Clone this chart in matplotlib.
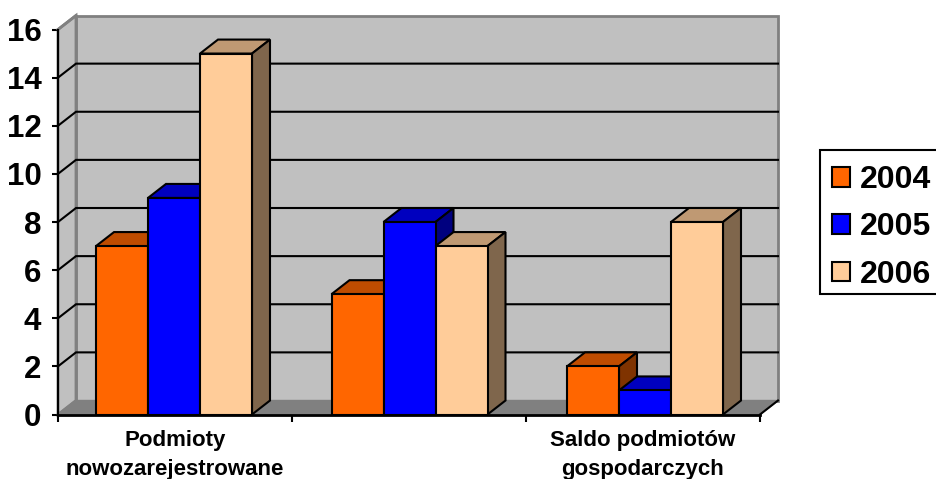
import matplotlib
matplotlib.use('Agg')
import matplotlib.pyplot as plt
from matplotlib.patches import Polygon, Patch, Rectangle

# Dane wykresu
categories = ['Podmioty\nnowozarejestrowane', '', 'Saldo podmiotów\ngospodarczych']
years = ['2004', '2005', '2006']
values_2004 = [7, 5, 2]
values_2005 = [9, 8, 1]
values_2006 = [15, 7, 8]
series = [values_2004, values_2005, values_2006]

# front, top, side
colors = [('#FF6600', '#BF4C00', '#7F3300'),
          ('#0000FF', '#0000BF', '#00007F'),
          ('#FFCC99', '#BF9973', '#7F664C')]

W, H = 936, 479
plt.rcParams['font.family'] = ['Liberation Sans', 'DejaVu Sans']
plt.rcParams['font.weight'] = 'bold'

fig = plt.figure(figsize=(W / 100, H / 100), dpi=100)
# front plane of the chart, in pixels: x 58..760, y 414.5..29.5
ax = fig.add_axes([58 / W, 1 - 414.5 / H, 702 / W, 385 / H])
ax.set_xlim(0, 3)
ax.set_ylim(0, 16)

# 3D depth expressed in data units
dx = 18 / 234
dy = 14 / (385 / 16)
bar_w = 52 / 234
bar_start = 38 / 234
group_step = 235.5 / 234

for s in ax.spines.values():
    s.set_visible(False)
ax.patch.set_visible(False)


def poly(pts, fc, ec='black', lw=1.5, z=1):
    ax.add_patch(Polygon(pts, closed=True, facecolor=fc, edgecolor=ec, linewidth=lw,
                         clip_on=False, zorder=z, joinstyle='miter'))


# walls and floor
poly([(dx, dy), (3 + dx, dy), (3 + dx, 16 + dy), (dx, 16 + dy)], '#C0C0C0', '#808080', 2, 1)
poly([(0, 0), (dx, dy), (dx, 16 + dy), (0, 16)], '#C0C0C0', '#808080', 2, 1)
poly([(0, 0), (3, 0), (3 + dx, dy), (dx, dy)], '#808080', '#808080', 1, 1)

# gridlines
for v in range(2, 16, 2):
    ax.plot([0, dx, 3 + dx], [v, v + dy, v + dy], color='black', lw=1.5, clip_on=False,
            zorder=2, solid_joinstyle='miter')
ax.plot([3, 3 + dx], [0, dy], color='black', lw=1.5, clip_on=False, zorder=2)
ax.plot([0, dx], [0, dy], color='#808080', lw=1.5, clip_on=False, zorder=2)
ax.plot([0, dx], [16, 16 + dy], color='#808080', lw=2, clip_on=False, zorder=2)

# bars, drawn left to right so each one covers the side of the previous one
z = 3
for g in range(len(categories)):
    for i, vals in enumerate(series):
        x0 = g * group_step + bar_start + i * bar_w
        x1 = x0 + bar_w
        v = vals[g]
        front, top, side = colors[i]
        poly([(x0, v), (x1, v), (x1 + dx, v + dy), (x0 + dx, v + dy)], top, z=z)
        poly([(x1, 0), (x1 + dx, dy), (x1 + dx, v + dy), (x1, v)], side, z=z)
        poly([(x0, 0), (x1, 0), (x1, v), (x0, v)], front, z=z)
        z += 1

# axes lines
ax.plot([0, 0], [0, 16], color='black', lw=1.5, clip_on=False, zorder=z)
ax.plot([0, 3], [0, 0], color='black', lw=2, clip_on=False, zorder=z)

ax.set_yticks(range(0, 17, 2))
ax.tick_params(axis='y', labelsize=22.5, length=4, width=1.5, pad=8, color='black')
ax.set_xticks([0, 1, 2, 3])
ax.set_xticklabels([])
ax.tick_params(axis='x', which='major', length=5, width=1.5)
ax.set_xticks([0.5, 1.5, 2.5], minor=True)
ax.set_xticklabels(categories, minor=True, fontsize=16, linespacing=1.5)
ax.tick_params(axis='x', which='minor', length=0, pad=11)

# legend frame runs past the right edge of the picture
fig.add_artist(Rectangle((820 / W, 1 - 294 / H), 120 / W, 144 / H, transform=fig.transFigure,
                         facecolor='white', edgecolor='black', linewidth=1.5))
handles = [Patch(facecolor=colors[i][0], edgecolor='black', linewidth=1.5, label=years[i])
           for i in range(3)]
leg = fig.legend(handles=handles, loc='upper left', bbox_to_anchor=(820 / W, 1 - 153 / H),
                 prop={'size': 23, 'weight': 'bold'}, frameon=False,
                 handlelength=0.565, handleheight=0.565, handletextpad=0.31,
                 labelspacing=0.54, borderaxespad=0, borderpad=0.38)

fig.savefig('out.png', dpi=100)
